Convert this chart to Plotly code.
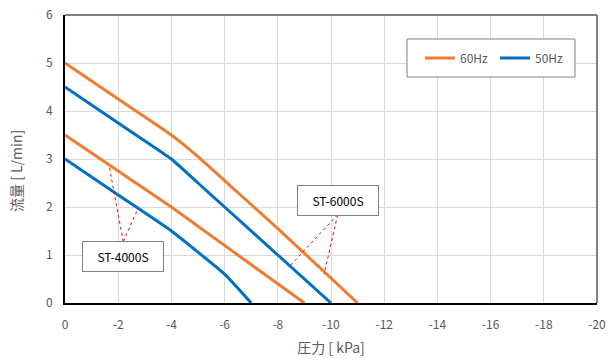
import plotly.graph_objects as go

# Data
x_st6000_60 = [0, -2, -4, -5, -6, -8, -10, -11]
y_st6000_60 = [5.0, 4.25, 3.5, 3.05, 2.55, 1.55, 0.52, 0.0]
x_st6000_50 = [0, -2, -4, -5, -6, -8, -10]
y_st6000_50 = [4.5, 3.75, 3.0, 2.5, 2.0, 1.0, 0.0]
x_st4000_60 = [0, -2, -4, -6, -8, -9]
y_st4000_60 = [3.5, 2.75, 2.0, 1.2, 0.4, 0.0]
x_st4000_50 = [0, -2, -4, -6, -7]
y_st4000_50 = [3.0, 2.25, 1.5, 0.6, 0.0]

x_ticks = list(range(0, -21, -2))
y_ticks = list(range(0, 7))

ORANGE = "#ED7D31"
BLUE = "#0070C0"
GRAY = "#595959"
FONT = "Noto Sans CJK JP, Noto Sans, sans-serif"

# Annotation labels and leader line targets (data coords)
labels = ["ST-4000S", "ST-6000S"]
label_x = [-2.19, -10.27]
label_y = [0.96, 2.14]
apex_x = [-2.19, -10.25]
apex_y = [1.28, 1.84]
leader_targets = [[(-1.67, 2.83), (-2.72, 1.94)], [(-8.4, 0.74), (-9.74, 0.60)]]

fig = go.Figure()
series = [
    (x_st6000_60, y_st6000_60, ORANGE, "60Hz", True),
    (x_st6000_50, y_st6000_50, BLUE, "50Hz", True),
    (x_st4000_60, y_st4000_60, ORANGE, "60Hz", False),
    (x_st4000_50, y_st4000_50, BLUE, "50Hz", False),
]
for xs, ys, c, name, show in series:
    fig.add_trace(go.Scatter(x=xs, y=ys, mode="lines", name=name, showlegend=show,
                             line=dict(color=c, width=3, shape="spline", smoothing=0.4)))

shapes = []
for i in range(len(labels)):
    for tx, ty in leader_targets[i]:
        shapes.append(dict(type="line", xref="x", yref="y", x0=apex_x[i], y0=apex_y[i],
                           x1=tx, y1=ty, line=dict(color="red", width=1, dash="dot")))
# top and right frame
shapes.append(dict(type="line", xref="paper", yref="paper", x0=0, x1=1, y0=1, y1=1,
                   line=dict(color="#808080", width=2)))
shapes.append(dict(type="line", xref="paper", yref="paper", x0=1, x1=1, y0=0, y1=1,
                   line=dict(color="#808080", width=2)))
# legend box
shapes.append(dict(type="rect", xref="paper", yref="paper", x0=(407 - 65) / 532, x1=(575 - 65) / 532,
                   y0=(303 - 77) / 288, y1=(303 - 39) / 288,
                   line=dict(color="#808080", width=1), fillcolor="white", layer="above"))

annotations = []
for i in range(len(labels)):
    annotations.append(dict(x=label_x[i], y=label_y[i], xref="x", yref="y", text=labels[i],
                            showarrow=False, font=dict(family=FONT, size=12, color="black"),
                            bgcolor="white", bordercolor="#808080", borderwidth=1,
                            borderpad=6, width=68))
# y-axis title (placed slightly below centre as in the reference)
annotations.append(dict(x=16, xref="paper", xanchor="center", y=(303 - 171) / 288, yref="paper",
                        yanchor="middle", text="流量 [ L/min]", textangle=-90, showarrow=False,
                        font=dict(family=FONT, size=14, color=GRAY)))
annotations[-1]["x"] = (16 - 65) / 532

fig.update_layout(
    width=608, height=363,
    margin=dict(l=65, r=11, t=15, b=60, autoexpand=False),
    paper_bgcolor="white", plot_bgcolor="white",
    font=dict(family=FONT, size=12, color=GRAY),
    shapes=shapes, annotations=annotations,
    legend=dict(orientation="h", x=(420 - 65) / 532, y=(303 - 58) / 288, yanchor="middle",
                xanchor="left", bgcolor="rgba(0,0,0,0)", borderwidth=0,
                font=dict(family=FONT, size=12, color=GRAY), itemwidth=30,
                entrywidth=30),
    xaxis=dict(range=[0, -20], tickvals=x_ticks, ticktext=[str(v) for v in x_ticks],
               showgrid=True, gridcolor="#D9D9D9", gridwidth=1, zeroline=False,
               showline=True, linecolor="black", linewidth=2, ticks="", ticklen=0,
               ticklabelstandoff=10,
               title=dict(text="圧力 [ kPa]", font=dict(family=FONT, size=14, color=GRAY), standoff=12),
               tickfont=dict(family=FONT, size=12, color=GRAY)),
    yaxis=dict(range=[0, 6], tickvals=y_ticks, showgrid=True, gridcolor="#D9D9D9", gridwidth=1,
               zeroline=False, showline=True, linecolor="black", linewidth=2, ticks="",
               ticklabelstandoff=8,
               tickfont=dict(family=FONT, size=12, color=GRAY)),
)

fig.write_html("out.html", config={"displayModeBar": False},
               post_script="document.body.style.margin='0';document.body.style.overflow='hidden';")
